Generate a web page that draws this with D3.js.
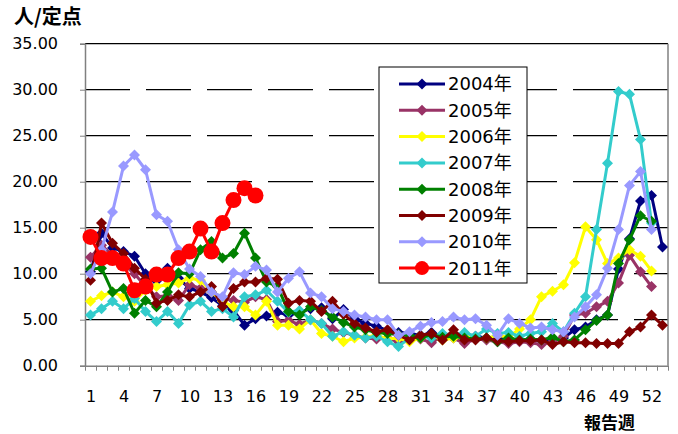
<!DOCTYPE html>
<html>
<head>
<meta charset="utf-8">
<script src="https://cdn.jsdelivr.net/npm/d3@7"></script>
<style>
body { margin: 0; background: #fff; }
svg { display: block; }
.num { font-family: "DejaVu Sans", sans-serif; font-size: 16px; fill: #000; }
.jp { font-family: "Noto Sans CJK JP", sans-serif; font-weight: bold; fill: #000; }
</style>
</head>
<body>
<svg id="chart" width="678" height="434"></svg>
<script>
var weeks = d3.range(1, 54);
var xLabels = [1, 4, 7, 10, 13, 16, 19, 22, 25, 28, 31, 34, 37, 40, 43, 46, 49, 52];
var yTicks = [0, 5, 10, 15, 20, 25, 30, 35];

var names = ["2004年", "2005年", "2006年", "2007年", "2008年", "2009年", "2010年", "2011年"];
var colors = ["#000080", "#993366", "#ffff00", "#33cccc", "#008000", "#800000", "#9999ff", "#ff0000"];

var s2004 = [10.2, 14.4, 12.8, 12.4, 11.9, 10.0, 9.2, 10.6, 9.5, 8.4, 8.0, 7.4, 6.5, 6.0, 4.4, 5.1, 5.4, 5.8, 5.5, 5.8,
    6.2, 6.3, 5.1, 6.1, 5.1, 4.6, 4.3, 3.8, 3.6, 3.5, 3.3, 3.6, 3.2, 3.4, 3.0, 3.2, 3.0, 2.9, 3.0, 2.7,
    2.9, 2.7, 2.8, 3.0, 3.9, 4.2, 5.0, 5.5, 10.5, 13.8, 17.9, 18.5, 12.9];
var s2005 = [11.8, 13.1, 12.0, 11.0, 10.0, 8.6, 7.5, 7.6, 7.1, 8.8, 8.4, 8.0, 7.3, 7.1, 6.9, 7.5, 7.2, 4.8, 4.9, 4.5,
    5.0, 4.6, 4.0, 3.6, 3.3, 3.0, 2.9, 3.0, 2.6, 2.8, 2.9, 2.5, 3.2, 3.0, 2.4, 2.9, 2.8, 2.6, 2.4, 2.6,
    2.5, 2.3, 2.6, 3.2, 5.5, 5.7, 6.4, 7.0, 9.0, 12.0, 10.2, 8.6];
var s2006 = [7.0, 7.6, 8.0, 7.5, 7.0, 8.2, 8.6, 8.8, 9.0, 9.5, 9.3, 8.0, 7.0, 6.4, 6.4, 5.5, 7.0, 4.4, 4.4, 4.0,
    5.0, 3.5, 3.2, 2.6, 3.0, 3.1, 3.3, 2.9, 3.0, 2.6, 3.0, 3.3, 2.8, 3.0, 3.2, 2.9, 3.0, 3.3, 3.1, 4.0,
    5.0, 7.5, 8.1, 8.8, 11.2, 15.1, 13.7, 11.1, 11.7, 12.6, 11.9, 10.3];
var s2007 = [5.5, 6.2, 7.0, 6.2, 7.3, 5.9, 4.8, 5.9, 4.6, 6.6, 7.0, 5.9, 6.2, 5.3, 7.5, 7.7, 8.2, 7.0, 5.8, 6.0,
    5.0, 4.6, 3.2, 3.7, 3.3, 3.0, 3.2, 2.6, 2.1, 3.0, 3.3, 3.0, 3.5, 3.3, 3.6, 3.2, 4.0, 3.5, 3.6, 3.2,
    3.5, 3.7, 4.6, 3.7, 5.7, 7.5, 14.8, 22.0, 29.8, 29.5, 24.6, 15.5];
var s2008 = [10.5, 10.6, 8.0, 8.4, 5.7, 7.1, 6.4, 8.0, 10.1, 10.0, 12.6, 13.5, 11.7, 12.2, 14.4, 11.7, 9.1, 8.6, 5.9, 5.5,
    6.4, 6.0, 5.3, 4.7, 4.2, 3.9, 3.6, 3.5, 3.4, 3.3, 3.0, 3.4, 3.1, 3.2, 3.0, 2.9, 3.0, 2.6, 3.0, 2.8,
    2.9, 2.8, 3.1, 2.6, 2.8, 3.9, 4.9, 5.5, 11.1, 13.7, 16.3, 15.7];
var s2009 = [9.3, 15.5, 13.3, 12.2, 10.6, 9.4, 6.8, 7.1, 7.7, 7.5, 8.0, 8.6, 6.4, 8.4, 9.1, 9.1, 9.5, 9.4, 6.8, 7.1,
    7.0, 5.9, 7.0, 5.6, 4.6, 4.1, 3.7, 3.9, 3.3, 2.8, 3.3, 3.5, 2.8, 3.9, 2.8, 2.8, 3.0, 2.7, 2.6, 2.7,
    2.7, 2.8, 2.3, 2.6, 2.5, 2.5, 2.4, 2.4, 2.4, 3.7, 4.2, 5.5, 4.4];
var s2010 = [10.0, 12.6, 16.7, 21.7, 22.9, 21.3, 16.4, 15.7, 12.6, 10.5, 9.7, 8.0, 7.5, 10.1, 9.9, 10.8, 10.4, 8.0, 9.5, 10.2,
    7.9, 7.5, 6.2, 5.9, 5.5, 5.3, 5.0, 5.0, 3.3, 3.7, 4.3, 4.7, 4.8, 5.3, 5.0, 5.1, 4.4, 3.3, 5.1, 4.6,
    4.1, 4.2, 3.9, 3.7, 5.3, 6.4, 7.7, 10.6, 14.8, 19.6, 21.1, 14.8];
var s2011 = [14.0, 11.7, 11.7, 11.1, 8.2, 8.6, 9.9, 9.9, 11.7, 12.4, 14.9, 12.4, 15.5, 18.0, 19.3, 18.5];

var series = [s2004, s2005, s2006, s2007, s2008, s2009, s2010, s2011];

var svg = d3.select("#chart");
var plotLeft = 85, plotRight = 668, plotTop = 43.7, plotBottom = 365.7;

var x = d3.scaleLinear().domain([0.5, weeks.length + 0.5]).range([plotLeft, plotRight]);
var y = d3.scaleLinear().domain([0, 35]).range([plotBottom, plotTop]);

// gridlines
svg.append("g")
    .selectAll("line")
    .data(yTicks.filter(function (t) { return t > 0; }))
    .enter().append("line")
    .attr("x1", plotLeft).attr("x2", plotRight)
    .attr("y1", function (d) { return y(d); })
    .attr("y2", function (d) { return y(d); })
    .attr("stroke", "#000")
    .attr("stroke-width", 1.3)
    .attr("stroke-dasharray", function (d) { return d === 35 ? null : "45,16"; })
;

// right border
svg.append("line")
    .attr("x1", plotRight).attr("x2", plotRight)
    .attr("y1", plotTop).attr("y2", plotBottom)
    .attr("stroke", "#808080")
    .attr("stroke-width", 1.5)
;

// y axis
var yAxis = svg.append("g")
    .attr("transform", "translate(" + plotLeft + ",0)")
    .call(d3.axisLeft(y).tickValues(yTicks).tickFormat(d3.format(".2f")).tickSize(5).tickPadding(22))
;
yAxis.select(".domain").attr("stroke", "#808080").attr("stroke-width", 1.5);
yAxis.selectAll(".tick line").attr("stroke", "#808080");
yAxis.selectAll("text").attr("class", "num").attr("font-family", null).attr("font-size", null);

// x axis: ticks at category edges
var xAxis = svg.append("g")
    .attr("transform", "translate(0," + plotBottom + ")")
    .call(d3.axisBottom(x).tickValues(d3.range(0.5, weeks.length + 1, 1)).tickFormat("").tickSize(5).tickSizeOuter(0))
;
xAxis.select(".domain").attr("stroke", "#808080").attr("stroke-width", 1.5);
xAxis.selectAll(".tick line").attr("stroke", "#808080");

var xText = svg.append("g")
    .attr("transform", "translate(0," + plotBottom + ")")
    .call(d3.axisBottom(x).tickValues(xLabels).tickSize(0).tickPadding(25))
;
xText.select(".domain").remove();
xText.selectAll("text").attr("class", "num").attr("font-family", null).attr("font-size", null);

var diamond = function (r) {
    return "M0," + (-r) + "L" + r + ",0L0," + r + "L" + (-r) + ",0Z";
};

var line = d3.line()
    .defined(function (d) { return d != null; })
    .x(function (d, i) { return x(weeks[i]); })
    .y(function (d) { return y(d); })
;

series.forEach(function (s, k) {
    var g = svg.append("g").attr("class", "series");
    g.append("path")
        .attr("d", line(s))
        .attr("fill", "none")
        .attr("stroke", colors[k])
        .attr("stroke-width", 3)
        .attr("stroke-linejoin", "round")
    ;
    if (k === 7) {
        g.selectAll("circle")
            .data(s)
            .enter().append("circle")
            .attr("cx", function (d, i) { return x(weeks[i]); })
            .attr("cy", function (d) { return y(d); })
            .attr("r", 8)
            .attr("fill", colors[k])
        ;
    } else {
        g.selectAll("path.m")
            .data(s)
            .enter().append("path")
            .attr("class", "m")
            .attr("d", diamond(5.5))
            .attr("transform", function (d, i) { return "translate(" + x(weeks[i]) + "," + y(d) + ")"; })
            .attr("fill", colors[k])
        ;
    }
});

// legend
var lg = svg.append("g").attr("transform", "translate(379,67)");
lg.append("rect")
    .attr("width", 148).attr("height", 216)
    .attr("fill", "#fff").attr("stroke", "#000").attr("stroke-width", 1)
;
names.forEach(function (n, k) {
    var cy = 17 + k * 26.3;
    lg.append("line")
        .attr("x1", 20).attr("x2", 66)
        .attr("y1", cy).attr("y2", cy)
        .attr("stroke", colors[k]).attr("stroke-width", 3)
    ;
    if (k === 7) {
        lg.append("circle").attr("cx", 43).attr("cy", cy).attr("r", 7).attr("fill", colors[k]);
    } else {
        lg.append("path").attr("d", diamond(5.5)).attr("transform", "translate(43," + cy + ")").attr("fill", colors[k]);
    }
    lg.append("text")
        .attr("x", 69).attr("y", cy)
        .attr("dy", "0.36em")
        .attr("font-family", "'DejaVu Sans', 'Noto Sans CJK JP', sans-serif")
        .attr("font-size", 18)
        .text(n)
    ;
});

svg.append("text")
    .attr("class", "jp")
    .attr("x", 14).attr("y", 24)
    .attr("font-size", 20)
    .text("人/定点")
;
svg.append("text")
    .attr("class", "jp")
    .attr("x", 584).attr("y", 429)
    .attr("font-size", 17)
    .text("報告週")
;
</script>
</body>
</html>
